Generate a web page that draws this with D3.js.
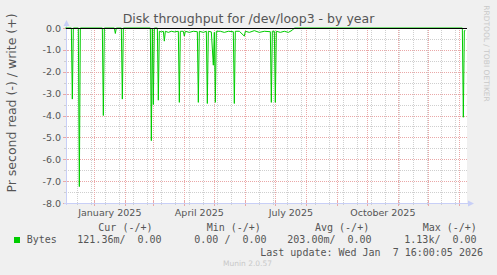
<!DOCTYPE html>
<html>
<head>
<meta charset="utf-8">
<script src="https://cdn.jsdelivr.net/npm/d3@7"></script>
<style>
body { margin: 0; background: #f0f0f0; }
svg { display: block; }
text { font-family: "DejaVu Sans", sans-serif; fill: #555; }
.mono { font-family: "DejaVu Sans Mono", monospace; font-size: 10px; white-space: pre; }
</style>
</head>
<body>
<script>
// read rate per day (negative = read)
const days = [
  "2024-12-03", "2024-12-09", "2024-12-10", "2024-12-11", "2024-12-16", "2024-12-17", "2024-12-18",
  "2025-01-09", "2025-01-10", "2025-01-11", "2025-01-21", "2025-01-22", "2025-01-23",
  "2025-01-28", "2025-01-29", "2025-01-30", "2025-02-26", "2025-02-27", "2025-02-28",
  "2025-03-01", "2025-03-02", "2025-03-05", "2025-03-06", "2025-03-07", "2025-03-09",
  "2025-03-11", "2025-03-12", "2025-03-13", "2025-03-16", "2025-03-19", "2025-03-22",
  "2025-03-26", "2025-03-27", "2025-03-28", "2025-03-31", "2025-04-01", "2025-04-02",
  "2025-04-06", "2025-04-10", "2025-04-14", "2025-04-15", "2025-04-16", "2025-04-20",
  "2025-04-23", "2025-04-24", "2025-04-25", "2025-04-28", "2025-04-30", "2025-05-01",
  "2025-05-02", "2025-05-03", "2025-05-07", "2025-05-11", "2025-05-15", "2025-05-20",
  "2025-05-21", "2025-05-22", "2025-05-26", "2025-05-31", "2025-06-01", "2025-06-05",
  "2025-06-10", "2025-06-15", "2025-06-20", "2025-06-26", "2025-06-27", "2025-06-28",
  "2025-06-30", "2025-07-01", "2025-07-02", "2025-07-06", "2025-07-10", "2025-07-14",
  "2025-07-18", "2025-07-20", "2026-01-04", "2026-01-05", "2026-01-06", "2026-01-07"
];
const readRate = [
  0, 0, -3.25, 0, 0, -7.25, 0,
  0, -4.0, 0, 0, -0.25, 0,
  0, -3.25, 0, 0, -5.15, 0,
  -3.5, 0, 0, -3.3, -0.15, -0.18,
  -0.15, -0.6, -0.15, -0.2, -0.15, -0.18,
  -0.15, -3.4, -0.15, -0.15, -0.37, -0.15,
  -0.2, -0.15, -0.17, -3.4, -0.15, -0.2,
  -0.15, -3.45, -0.15, -0.18, -1.7, -0.2,
  -3.4, -0.15, -0.15, -0.2, -0.15, -0.17,
  -3.45, -0.15, -0.15, -0.37, -0.15, -0.2,
  -0.12, -0.2, -0.15, -0.17, -3.4, -0.15,
  -0.15, -3.4, -0.15, -0.2, -0.15, -0.2,
  -0.1, 0, 0, -4.08, -0.12, -0.12
];

const yMajor = [0, -1, -2, -3, -4, -5, -6, -7, -8];
const yMinor = [-0.5, -1.5, -2.5, -3.5, -4.5, -5.5, -6.5, -7.5];
const labelMonths = ["2025-01-01", "2025-04-01", "2025-07-01", "2025-10-01"];
const labelTexts = ["January 2025", "April 2025", "July 2025", "October 2025"];
const legendHeads = ["Cur (-/+)", "Min (-/+)", "Avg (-/+)", "Max (-/+)"];
const legendValues = ["121.36m/  0.00", "0.00 /  0.00", "203.00m/  0.00", "1.13k/  0.00"];

const W = 497, H = 275;
const plotLeft = 66, plotRight = 466, plotTop = 28, plotBottom = 203;
const parseDay = d3.utcParse("%Y-%m-%d");
const endTime = d3.utcParse("%Y-%m-%d %H:%M")("2026-01-07 16:00");
const startTime = d3.utcDay.offset(endTime, -400);

const xScale = d3.scaleUtc().domain([startTime, endTime]).range([plotLeft, plotRight]);
const yScale = d3.scaleLinear().domain([-8, 0]).range([plotBottom, plotTop]);

const series = days.map((d, i) => ({ date: parseDay(d), v: readRate[i] }));

const svg = d3.select("body").append("svg")
  .attr("width", W)
  .attr("height", H);

svg.append("rect").attr("width", W).attr("height", H).attr("fill", "#f0f0f0");
svg.append("rect") //plot canvas
  .attr("x", plotLeft).attr("y", plotTop)
  .attr("width", plotRight - plotLeft + 1).attr("height", plotBottom - plotTop)
  .attr("fill", "#fff");

const minorColor = "#cfcfcf";
const majorColor = "#eaa8a8";
const crisp = v => Math.round(v) + 0.5;

// minor grid: every other sunday, half units
const minorDates = d3.utcDay.range(parseDay("2024-12-15"), endTime, 14);
const monthDates = d3.utcMonth.range(startTime, endTime);

svg.append("g").selectAll("line")
  .data(yMinor).enter().append("line")
  .attr("x1", plotLeft).attr("x2", plotRight + 2)
  .attr("y1", d => crisp(yScale(d))).attr("y2", d => crisp(yScale(d)))
  .attr("stroke", minorColor).attr("stroke-dasharray", "1,1");

svg.append("g").selectAll("line")
  .data(minorDates).enter().append("line")
  .attr("x1", d => crisp(xScale(d))).attr("x2", d => crisp(xScale(d)))
  .attr("y1", plotTop).attr("y2", plotBottom)
  .attr("stroke", minorColor).attr("stroke-dasharray", "1,1");

svg.append("g").selectAll("line")
  .data(yMajor).enter().append("line")
  .attr("x1", plotLeft).attr("x2", plotRight + 2)
  .attr("y1", d => crisp(yScale(d))).attr("y2", d => crisp(yScale(d)))
  .attr("stroke", majorColor).attr("stroke-dasharray", "1,1");

svg.append("g").selectAll("line")
  .data(monthDates).enter().append("line")
  .attr("x1", d => crisp(xScale(d))).attr("x2", d => crisp(xScale(d)))
  .attr("y1", plotTop).attr("y2", plotBottom)
  .attr("stroke", majorColor).attr("stroke-dasharray", "1,1");

// tick marks on the axes
const tickG = svg.append("g");
tickG.selectAll(".xmin").data(minorDates).enter().append("line")
  .attr("x1", d => crisp(xScale(d))).attr("x2", d => crisp(xScale(d)))
  .attr("y1", plotBottom - 1).attr("y2", plotBottom + 2).attr("stroke", minorColor);
tickG.selectAll(".xmaj").data(monthDates).enter().append("line")
  .attr("x1", d => crisp(xScale(d))).attr("x2", d => crisp(xScale(d)))
  .attr("y1", plotBottom - 2).attr("y2", plotBottom + 3).attr("stroke", majorColor);
tickG.selectAll(".ymin").data(yMinor).enter().append("line")
  .attr("x1", plotLeft - 2).attr("x2", plotLeft + 1)
  .attr("y1", d => crisp(yScale(d))).attr("y2", d => crisp(yScale(d))).attr("stroke", minorColor);
tickG.selectAll(".ymaj").data(yMajor).enter().append("line")
  .attr("x1", plotLeft - 3).attr("x2", plotLeft + 2)
  .attr("y1", d => crisp(yScale(d))).attr("y2", d => crisp(yScale(d))).attr("stroke", majorColor);

// axis lines and arrows
const axisColor = "#c8cff7";
svg.append("line").attr("x1", plotLeft + 0.5).attr("x2", plotLeft + 0.5)
  .attr("y1", plotBottom + 2).attr("y2", plotTop - 6).attr("stroke", axisColor);
svg.append("line").attr("x1", plotLeft - 2).attr("x2", plotRight + 4)
  .attr("y1", plotBottom + 0.5).attr("y2", plotBottom + 0.5).attr("stroke", axisColor);
svg.append("path")
  .attr("d", `M${plotLeft - 2.5},${plotTop - 2}L${plotLeft + 0.5},${plotTop - 8}L${plotLeft + 3.5},${plotTop - 2}Z`)
  .attr("fill", axisColor);
svg.append("path")
  .attr("d", `M${plotRight + 2},${plotBottom - 2.5}L${plotRight + 8},${plotBottom + 0.5}L${plotRight + 2},${plotBottom + 3.5}Z`)
  .attr("fill", axisColor);

// the data line
const line = d3.line()
  .x(d => xScale(d.date))
  .y(d => yScale(d.v));

svg.append("path")
  .datum(series)
  .attr("d", line)
  .attr("fill", "none")
  .attr("stroke", "#00cc00")
  .attr("stroke-width", 1);

// zero line
svg.append("line")
  .attr("x1", plotLeft).attr("x2", plotRight + 1)
  .attr("y1", crisp(yScale(0))).attr("y2", crisp(yScale(0)))
  .attr("stroke", "#000");

// y axis labels
const yAxis = d3.axisLeft(yScale)
  .tickValues(yMajor)
  .tickFormat(d => d.toFixed(1))
  .tickSize(0)
  .tickPadding(5);

const yAxisG = svg.append("g")
  .attr("transform", "translate(" + plotLeft + ",0)")
  .call(yAxis);
yAxisG.select(".domain").remove();
yAxisG.selectAll("text")
  .attr("fill", "#555")
  .style("font-family", "DejaVu Sans")
  .style("font-size", "9.5px");

// month labels, centered inside their month
svg.append("g").selectAll("text")
  .data(labelMonths).enter().append("text")
  .attr("x", d => {
    const m = parseDay(d);
    return (xScale(m) + xScale(d3.utcMonth.offset(m, 1))) / 2;
  })
  .attr("y", 216)
  .attr("text-anchor", "middle")
  .style("font-size", "9.5px")
  .text((d, i) => labelTexts[i]);

// title
svg.append("text")
  .attr("x", 248.5)
  .attr("y", 22.5)
  .attr("text-anchor", "middle")
  .style("font-size", "12.5px")
  .text("Disk throughput for /dev/loop3 - by year");

// vertical axis title
svg.append("text")
  .attr("transform", "translate(16,103) rotate(-90)")
  .attr("text-anchor", "middle")
  .style("font-size", "12.5px")
  .text("Pr second read (-) / write (+)");

// side watermark
svg.append("text")
  .attr("transform", "translate(484,53.5) rotate(90)")
  .attr("text-anchor", "middle")
  .style("font-size", "7.5px")
  .style("fill", "#c8c8c8")
  .text("RRDTOOL / TOBI OETIKER");

// legend
const headX = [98.3, 206.7, 315, 422.7];
const valX = [77.3, 194.3, 287.3, 404.3];

svg.append("g").selectAll("text")
  .data(legendHeads).enter().append("text")
  .attr("class", "mono")
  .attr("x", (d, i) => headX[i])
  .attr("y", 231)
  .text(d => d);

svg.append("rect")
  .attr("x", 14).attr("y", 237)
  .attr("width", 6).attr("height", 6)
  .attr("fill", "#00cc00");

svg.append("text")
  .attr("class", "mono")
  .attr("x", 26.7).attr("y", 243.3)
  .text("Bytes");

svg.append("g").selectAll("text")
  .data(legendValues).enter().append("text")
  .attr("class", "mono")
  .attr("x", (d, i) => valX[i])
  .attr("y", 243.3)
  .text(d => d);

svg.append("text")
  .attr("class", "mono")
  .attr("x", 483).attr("y", 255.6)
  .attr("text-anchor", "end")
  .text("Last update: Wed Jan  7 16:00:05 2026");

svg.append("text")
  .attr("x", 247.5).attr("y", 266)
  .attr("text-anchor", "middle")
  .style("font-size", "7.5px")
  .style("fill", "#c8c8c8")
  .text("Munin 2.0.57");
</script>
</body>
</html>
